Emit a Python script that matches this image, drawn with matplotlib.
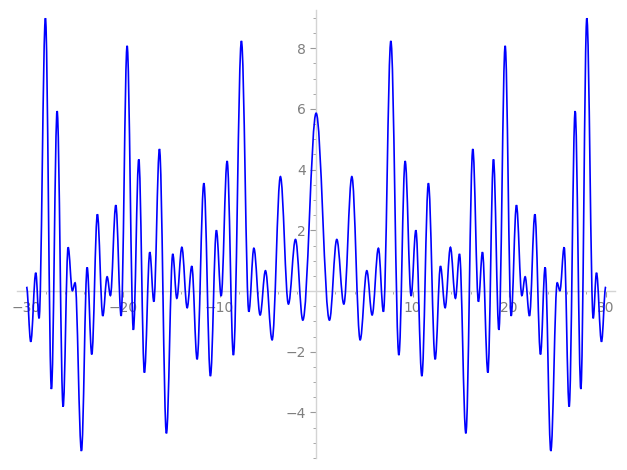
import matplotlib
matplotlib.use("Agg")
import matplotlib.pyplot as plt
from matplotlib.path import Path
from matplotlib.patches import PathPatch
from matplotlib.ticker import MultipleLocator, FixedLocator

# Local extrema of the curve, left to right
x_ext = [-30.0, -29.56, -29.04, -28.70, -28.04, -27.42, -26.83, -26.21, -25.69, -25.25,
         -24.97, -24.31, -23.72, -23.24, -22.66, -22.10, -21.65, -21.31, -20.75, -20.20,
         -19.58, -18.93, -18.37, -17.79, -17.23, -16.81, -16.23, -15.51, -14.85, -14.43,
         -13.91, -13.36, -12.88, -12.33, -11.63, -10.95, -10.33, -9.84, -9.22, -8.57,
         -7.74, -6.97, -6.45, -5.80, -5.25, -4.56, -3.70, -2.87, -2.14, -1.38,
         0.0,
         1.38, 2.14, 2.87, 3.70, 4.56, 5.25, 5.80, 6.45, 6.97, 7.74,
         8.57, 9.22, 9.84, 10.33, 10.95, 11.63, 12.33, 12.88, 13.36, 13.91,
         14.43, 14.85, 15.51, 16.23, 16.81, 17.23, 17.79, 18.37, 18.93, 19.58,
         20.20, 20.75, 21.31, 21.65, 22.10, 22.66, 23.24, 23.72, 24.31, 24.97,
         25.25, 25.69, 26.21, 26.83, 27.42, 28.04, 28.70, 29.04, 29.56, 30.0]
y_ext = [0.14, -1.67, 0.60, -0.90, 8.99, -3.23, 5.93, -3.81, 1.44, 0.01,
         0.27, -5.27, 0.78, -2.09, 2.53, -0.82, 0.47, -0.15, 2.83, -0.82,
         8.08, -1.28, 4.34, -2.69, 1.28, -0.35, 4.68, -4.69, 1.22, -0.24,
         1.44, -0.55, 0.82, -2.25, 3.55, -2.80, 2.00, -0.16, 4.28, -2.11,
         8.24, -0.68, 1.41, -0.79, 0.67, -1.61, 3.77, -0.43, 1.70, -0.96,
         5.86,
         -0.96, 1.70, -0.43, 3.77, -1.61, 0.67, -0.79, 1.41, -0.68, 8.24,
         -2.11, 4.28, -0.16, 2.00, -2.80, 3.55, -2.25, 0.82, -0.55, 1.44,
         -0.24, 1.22, -4.69, 4.68, -0.35, 1.28, -2.69, 4.34, -1.28, 8.08,
         -0.82, 2.83, -0.15, 0.47, -0.82, 2.53, -2.09, 0.78, -5.27, 0.27,
         0.01, 1.44, -3.81, 5.93, -3.23, 8.99, -0.90, 0.60, -1.67, 0.14]

x_ticks = [-30, -20, -10, 10, 20, 30]
y_ticks = [-4, -2, 2, 4, 6, 8]

fig = plt.figure(figsize=(6.27, 4.70), dpi=100)
ax = fig.add_axes([0.0269, 0.0257, 0.9546, 0.9523])

# smooth curve through extrema: cubic Bezier segments with flat tangents at extrema
k = 0.3642
verts = [(x_ext[0], y_ext[0])]
codes = [Path.MOVETO]
for i in range(len(x_ext) - 1):
    x0, y0, x1, y1 = x_ext[i], y_ext[i], x_ext[i + 1], y_ext[i + 1]
    dx = x1 - x0
    verts += [(x0 + k * dx, y0), (x1 - k * dx, y1), (x1, y1)]
    codes += [Path.CURVE4] * 3
ax.add_patch(PathPatch(Path(verts, codes), facecolor='none', edgecolor='blue',
                       lw=1.2, zorder=3))

ax.set_xlim(-31, 31)
ax.set_ylim(-5.5, 9.25)

for s in ['top', 'right']:
    ax.spines[s].set_visible(False)
ax.spines['left'].set_position(('data', 0))
ax.spines['bottom'].set_position(('data', 0))
for s in ['left', 'bottom']:
    ax.spines[s].set_color('#d4d4d4')
    ax.spines[s].set_linewidth(1.0)

ax.xaxis.set_major_locator(FixedLocator(x_ticks))
ax.yaxis.set_major_locator(FixedLocator(y_ticks))
ax.xaxis.set_minor_locator(MultipleLocator(2))
ax.yaxis.set_minor_locator(MultipleLocator(0.5))
ax.tick_params(which='major', length=4, width=0.8, color='#999999',
               labelcolor='#7f7f7f', labelsize=10)
ax.tick_params(which='minor', length=2, width=0.6, color='#999999')
ax.set_facecolor('white')

fig.savefig('out.png', dpi=100)
